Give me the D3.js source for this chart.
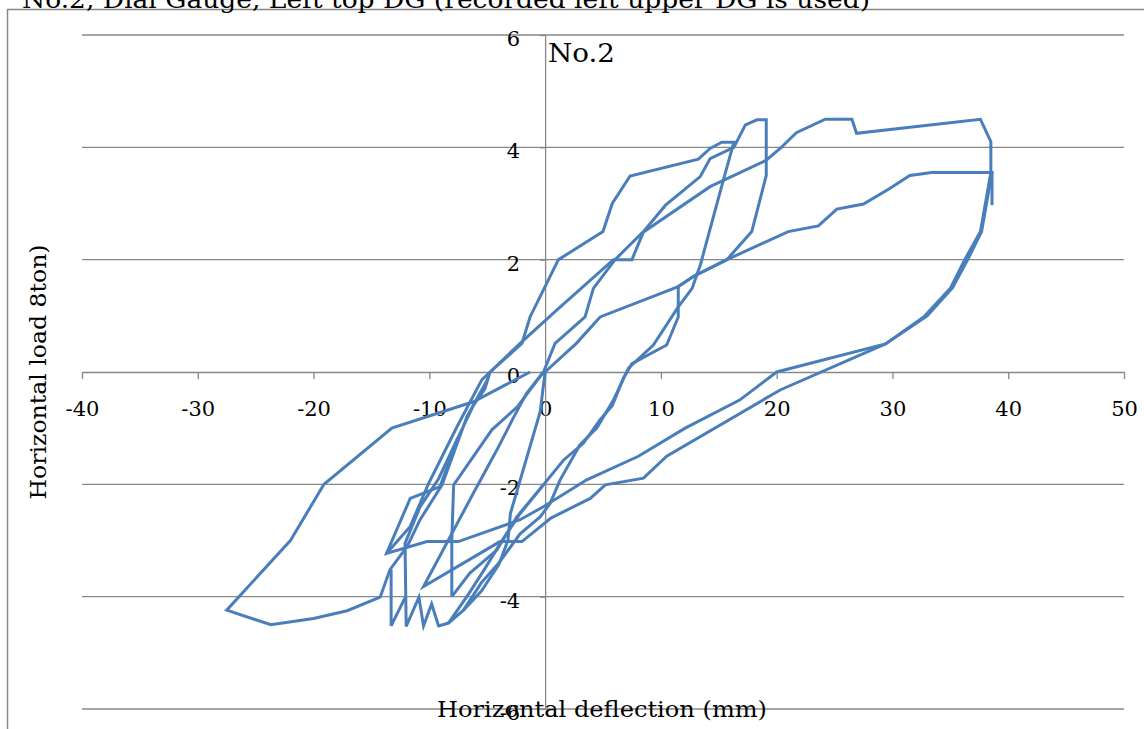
<!DOCTYPE html>
<html>
<head>
<meta charset="utf-8">
<script src="https://cdn.jsdelivr.net/npm/d3@7"></script>
<style>
  body { margin: 0; background: #fff; }
  text { font-family: "DejaVu Serif", "Liberation Serif", serif; fill: #000; }
</style>
</head>
<body>
<div id="chart"></div>
<script>
// axis settings
const xDomain = [-40, 50];
const yDomain = [-6, 6];
const xTicks = [-40, -30, -20, -10, 0, 10, 20, 30, 40, 50];
const yTicks = [-6, -4, -2, 0, 2, 4, 6];

// hysteresis record, split into branches [deflection mm, load]
const branchA = [
  [-1.3, 0], [-6.2, -0.53], [-13.24, -1.0], [-19.1, -2.0], [-22.0, -3.0], [-27.5, -4.24],
  [-23.7, -4.5], [-20.0, -4.39], [-17.1, -4.25], [-14.25, -4.01], [-13.4, -3.52],
  [-11.9, -3.1], [-10.8, -2.63], [-8.9, -2.01], [-6.76, -0.8], [-5.0, -0.14], [-4.75, 0],
  [-2.0, 0.51], [-1.3, 0.98], [1.15, 2.0], [5.0, 2.5], [5.8, 3.0], [7.34, 3.49],
  [13.24, 3.79], [14.25, 3.98], [15.26, 4.09], [16.3, 4.09], [15.4, 3.42], [13.4, 1.9],
  [12.7, 1.49], [11.5, 1.16], [9.35, 0.48], [7.2, 0.07], [5.9, -0.5], [4.46, -1.0],
  [3.0, -1.3], [1.3, -1.92], [0.43, -2.34], [-0.43, -2.58], [-2.16, -2.88], [-4.0, -3.4],
  [-5.5, -3.75], [-7.05, -4.24], [-8.35, -4.47], [-9.2, -4.52], [-9.8, -4.13],
  [-10.5, -4.52], [-10.9, -4.01], [-12.0, -4.53], [-12.1, -3.05], [-10.8, -2.4],
  [-9.2, -1.9], [-7.6, -1.2], [-6.2, -0.6], [-5.2, -0.3], [-4.75, 0]
];
const branchB = [
  [-13.7, -3.23], [-11.65, -2.75], [-10.1, -2.0], [-7.6, -0.97], [-5.47, -0.14],
  [-4.75, 0], [-2.16, 0.51], [1.0, 1.1], [5.9, 2.0], [7.5, 2.0], [8.5, 2.5], [10.4, 2.97],
  [13.4, 3.48], [14.25, 3.8], [16.3, 4.0], [17.3, 4.4], [18.3, 4.49], [19.1, 4.49],
  [19.1, 3.5], [17.85, 2.5], [15.7, 2.0], [12.8, 1.7], [11.5, 1.52], [11.5, 0.98],
  [10.5, 0.48], [7.5, 0.15], [6.76, -0.11], [5.8, -0.6], [4.75, -0.85], [3.3, -1.27],
  [1.58, -1.57], [-0.15, -2.01], [-2.16, -2.52], [-3.9, -3.06], [-5.2, -3.5],
  [-6.6, -3.95], [-8.35, -4.47]
];
const branchC = [
  [-8.06, -4.0], [-8.06, -2.99], [-7.9, -2.01], [-4.6, -1.03], [-2.4, -0.62], [-0.14, 0],
  [0.86, 0.51], [3.45, 0.98], [4.17, 1.49], [6.04, 2.0], [8.35, 2.47], [14.25, 3.3],
  [19.1, 3.77], [20.3, 3.98], [21.7, 4.26], [24.2, 4.5], [26.5, 4.5], [26.9, 4.25],
  [37.6, 4.5], [38.5, 4.1], [38.5, 3.55], [37.6, 2.5], [36.3, 2.02], [35.0, 1.49],
  [32.7, 0.98], [29.4, 0.5], [20.0, 0], [16.8, -0.5], [12.1, -1.0], [8.06, -1.5],
  [3.6, -1.92], [-0.15, -2.4], [-2.16, -2.63], [-7.5, -3.02], [-10.2, -3.02],
  [-13.7, -3.23], [-11.65, -2.25], [-9.07, -2.04], [-7.6, -1.2]
];
const branchD = [
  [-7.05, -4.24], [-5.5, -3.9], [-4.0, -3.43], [-3.2, -2.99], [-3.0, -2.52],
  [-0.43, -0.71], [0, 0], [2.7, 0.51], [4.75, 0.98], [11.5, 1.52], [12.8, 1.7],
  [15.7, 2.0], [21.0, 2.5], [23.6, 2.6], [25.2, 2.9], [27.5, 2.99], [29.8, 3.27],
  [31.5, 3.5], [33.4, 3.55], [38.6, 3.55], [37.7, 2.5], [36.5, 2.0], [35.2, 1.5],
  [33.0, 1.0], [29.4, 0.5], [20.3, -0.32], [10.5, -1.5], [8.5, -1.89], [5.2, -2.01],
  [3.9, -2.25], [0.5, -2.6], [-2.0, -3.02], [-3.9, -3.02], [-10.5, -3.82], [-6.2, -2.16],
  [-4.17, -1.39], [-2.7, -0.8], [-1.6, -0.38], [-0.14, 0]
];
const branchE = [
  [-8.06, -4.0], [-6.5, -3.58], [-4.17, -3.17], [-2.44, -2.58], [-0.15, -2.01]
];
const branchF = [[-13.3, -3.52], [-13.3, -4.52], [-12.05, -4.0]];
const branchG = [[38.6, 3.55], [38.6, 2.97]];
const branches = [branchA, branchB, branchC, branchD, branchE, branchF, branchG];

const W = 1144, H = 729;
const gridColor = "#878787";
const lineColor = "#4a7ebb";

const svg = d3.select("#chart").append("svg")
  .attr("width", W).attr("height", H);

// chart area border
svg.append("rect")
  .attr("x", 7.5).attr("y", 9.5)
  .attr("width", 1160).attr("height", 740)
  .attr("fill", "none").attr("stroke", gridColor).attr("stroke-width", 1.5);

const x = d3.scaleLinear().domain(xDomain).range([82, 1124]);
const y = d3.scaleLinear().domain(yDomain).range([709, 35]);

// horizontal gridlines
svg.append("g")
  .selectAll("line")
  .data(yTicks.filter(d => d !== 0))
  .enter()
  .append("line")
  .attr("x1", x(xDomain[0])).attr("x2", x(xDomain[1]))
  .attr("y1", d => y(d)).attr("y2", d => y(d))
  .attr("stroke", gridColor).attr("stroke-width", 1.3);

// x axis crossing at load 0
const xAxis = svg.append("g")
  .attr("transform", `translate(0, ${y(0)})`)
  .call(d3.axisBottom(x).tickValues(xTicks).tickFormat(d => String(d))
    .tickSize(7).tickSizeOuter(0).tickPadding(22));
xAxis.select(".domain").attr("stroke", gridColor).attr("stroke-width", 1.3);
xAxis.selectAll(".tick line").attr("stroke", gridColor).attr("stroke-width", 1.3);
xAxis.selectAll("text")
  .style("font-family", '"DejaVu Serif", serif')
  .style("font-size", "21px");

// y axis crossing at deflection 0
const yAxis = svg.append("g")
  .attr("transform", `translate(${x(0)}, 0)`)
  .call(d3.axisLeft(y).tickValues(yTicks).tickFormat(d => String(d))
    .tickSize(5).tickSizeOuter(0).tickPadding(20));
yAxis.select(".domain").attr("stroke", gridColor).attr("stroke-width", 1.3);
yAxis.selectAll(".tick line").attr("stroke", gridColor).attr("stroke-width", 1.3);
yAxis.selectAll("text")
  .attr("dy", "0.5em")
  .style("font-family", '"DejaVu Serif", serif')
  .style("font-size", "21px");

// hysteresis curve
const line = d3.line().x(d => x(d[0])).y(d => y(d[1]));
svg.append("g")
  .selectAll("path")
  .data(branches)
  .enter()
  .append("path")
  .attr("d", line)
  .attr("fill", "none")
  .attr("stroke", lineColor)
  .attr("stroke-width", 3)
  .attr("stroke-linejoin", "miter");

// titles
svg.append("text")
  .attr("x", 22).attr("y", 8)
  .attr("textLength", 848).attr("lengthAdjust", "spacingAndGlyphs")
  .style("font-size", "24px")
  .text("No.2, Dial Gauge, Left top DG (recorded left upper DG is used)");

svg.append("text")
  .attr("x", 548).attr("y", 62)
  .attr("textLength", 67).attr("lengthAdjust", "spacingAndGlyphs")
  .style("font-size", "26px")
  .text("No.2");

svg.append("text")
  .attr("x", 602).attr("y", 717)
  .attr("text-anchor", "middle")
  .attr("textLength", 330).attr("lengthAdjust", "spacingAndGlyphs")
  .style("font-size", "22px")
  .text("Horizontal deflection (mm)");

svg.append("text")
  .attr("transform", `translate(46, ${y(0)}) rotate(-90)`)
  .attr("text-anchor", "middle")
  .attr("textLength", 255).attr("lengthAdjust", "spacingAndGlyphs")
  .style("font-size", "22px")
  .text("Horizontal load 8ton)");
</script>
</body>
</html>
